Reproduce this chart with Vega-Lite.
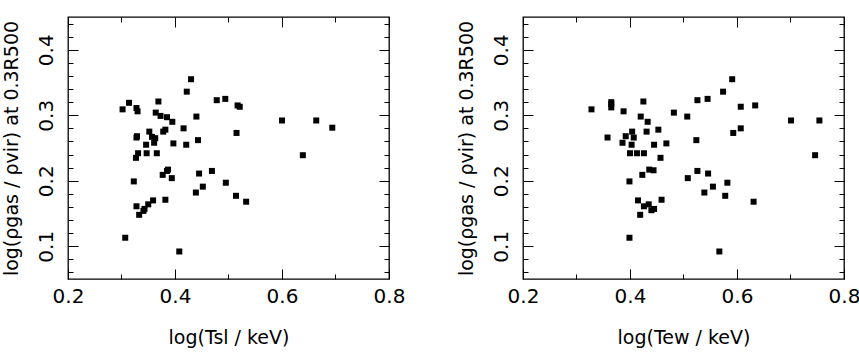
{
  "$schema": "https://vega.github.io/schema/vega-lite/v6.json",
  "padding": {"left": 1, "top": 15, "right": 0, "bottom": 0},
  "spacing": 134,
  "bounds": "flush",
  "datasets": {
    "sl": [
      {"x": 0.302, "y": 0.309}, {"x": 0.314, "y": 0.319}, {"x": 0.328, "y": 0.311}, {"x": 0.330, "y": 0.306},
      {"x": 0.369, "y": 0.321}, {"x": 0.364, "y": 0.304}, {"x": 0.373, "y": 0.299}, {"x": 0.385, "y": 0.297},
      {"x": 0.395, "y": 0.290}, {"x": 0.430, "y": 0.355}, {"x": 0.422, "y": 0.336}, {"x": 0.440, "y": 0.298},
      {"x": 0.478, "y": 0.323}, {"x": 0.494, "y": 0.325}, {"x": 0.517, "y": 0.315}, {"x": 0.521, "y": 0.313},
      {"x": 0.416, "y": 0.280}, {"x": 0.382, "y": 0.278}, {"x": 0.378, "y": 0.275}, {"x": 0.352, "y": 0.275},
      {"x": 0.329, "y": 0.268}, {"x": 0.328, "y": 0.266}, {"x": 0.357, "y": 0.267}, {"x": 0.363, "y": 0.265},
      {"x": 0.361, "y": 0.258}, {"x": 0.346, "y": 0.255}, {"x": 0.397, "y": 0.257}, {"x": 0.421, "y": 0.255},
      {"x": 0.443, "y": 0.262}, {"x": 0.515, "y": 0.273}, {"x": 0.600, "y": 0.292}, {"x": 0.664, "y": 0.292},
      {"x": 0.694, "y": 0.281}, {"x": 0.639, "y": 0.239}, {"x": 0.347, "y": 0.242}, {"x": 0.331, "y": 0.242},
      {"x": 0.366, "y": 0.242}, {"x": 0.327, "y": 0.235}, {"x": 0.323, "y": 0.199}, {"x": 0.387, "y": 0.217},
      {"x": 0.385, "y": 0.215}, {"x": 0.377, "y": 0.209}, {"x": 0.394, "y": 0.204}, {"x": 0.445, "y": 0.211},
      {"x": 0.469, "y": 0.215}, {"x": 0.495, "y": 0.197}, {"x": 0.452, "y": 0.191}, {"x": 0.439, "y": 0.182},
      {"x": 0.514, "y": 0.177}, {"x": 0.533, "y": 0.168}, {"x": 0.382, "y": 0.171}, {"x": 0.359, "y": 0.170},
      {"x": 0.350, "y": 0.164}, {"x": 0.343, "y": 0.157}, {"x": 0.341, "y": 0.154}, {"x": 0.333, "y": 0.148},
      {"x": 0.328, "y": 0.161}, {"x": 0.307, "y": 0.113}, {"x": 0.408, "y": 0.092}
    ],
    "ew": [
      {"x": 0.328, "y": 0.309}, {"x": 0.365, "y": 0.320}, {"x": 0.365, "y": 0.317}, {"x": 0.365, "y": 0.312},
      {"x": 0.388, "y": 0.306}, {"x": 0.425, "y": 0.321}, {"x": 0.420, "y": 0.298}, {"x": 0.433, "y": 0.290},
      {"x": 0.482, "y": 0.304}, {"x": 0.507, "y": 0.298}, {"x": 0.526, "y": 0.323}, {"x": 0.545, "y": 0.325},
      {"x": 0.574, "y": 0.336}, {"x": 0.591, "y": 0.355}, {"x": 0.607, "y": 0.313}, {"x": 0.634, "y": 0.315},
      {"x": 0.701, "y": 0.292}, {"x": 0.754, "y": 0.292}, {"x": 0.746, "y": 0.239}, {"x": 0.593, "y": 0.273},
      {"x": 0.607, "y": 0.280}, {"x": 0.524, "y": 0.262}, {"x": 0.453, "y": 0.278}, {"x": 0.431, "y": 0.275},
      {"x": 0.404, "y": 0.275}, {"x": 0.358, "y": 0.266}, {"x": 0.392, "y": 0.268}, {"x": 0.407, "y": 0.266},
      {"x": 0.386, "y": 0.258}, {"x": 0.403, "y": 0.255}, {"x": 0.445, "y": 0.255}, {"x": 0.468, "y": 0.257},
      {"x": 0.400, "y": 0.242}, {"x": 0.413, "y": 0.242}, {"x": 0.426, "y": 0.242}, {"x": 0.457, "y": 0.235},
      {"x": 0.436, "y": 0.217}, {"x": 0.444, "y": 0.216}, {"x": 0.423, "y": 0.209}, {"x": 0.399, "y": 0.199},
      {"x": 0.508, "y": 0.204}, {"x": 0.526, "y": 0.215}, {"x": 0.546, "y": 0.211}, {"x": 0.555, "y": 0.191},
      {"x": 0.582, "y": 0.197}, {"x": 0.539, "y": 0.182}, {"x": 0.578, "y": 0.177}, {"x": 0.631, "y": 0.168},
      {"x": 0.415, "y": 0.170}, {"x": 0.459, "y": 0.171}, {"x": 0.426, "y": 0.161}, {"x": 0.435, "y": 0.164},
      {"x": 0.445, "y": 0.157}, {"x": 0.440, "y": 0.155}, {"x": 0.419, "y": 0.148}, {"x": 0.399, "y": 0.113},
      {"x": 0.567, "y": 0.092}
    ]
  },
  "hconcat": [
    {
      "width": 321, "height": 262,
      "resolve": {"scale": {"x": "independent", "y": "independent"}},
      "layer": [
        {
          "data": {"name": "sl"},
          "mark": {"type": "square", "size": 36, "color": "black", "opacity": 1},
          "encoding": {
            "x": {"field": "x", "type": "quantitative", "scale": {"domain": [0.2, 0.8], "nice": false, "zero": false},
              "axis": {"orient": "bottom", "values": [0.2, 0.4, 0.6, 0.8], "format": ".1f", "domainOpacity": 0, "ticks": true, "tickColor": "black", "tickSize": 10, "offset": -10, "labelPadding": 7, "title": "log(Tsl / keV)", "titlePadding": 22}},
            "y": {"field": "y", "type": "quantitative", "scale": {"domain": [0.05, 0.45], "nice": false, "zero": false},
              "axis": {"orient": "left", "values": [0.1, 0.2, 0.3, 0.4], "format": ".1f", "domainOpacity": 0, "ticks": true, "tickColor": "black", "tickSize": 10, "offset": -10, "labelAngle": -90, "labelAlign": "center", "labelBaseline": "bottom", "labelPadding": 12, "title": "log(ρgas / ρvir) at 0.3R500", "titlePadding": 15}}
          }
        },
        {
          "data": {"name": "sl"},
          "mark": {"type": "square", "opacity": 0},
          "encoding": {
            "x": {"field": "x", "type": "quantitative", "scale": {"domain": [0.2, 0.8], "nice": false, "zero": false},
              "axis": {"orient": "bottom", "values": [0.3, 0.5, 0.7], "labels": false, "title": null, "domainOpacity": 0, "ticks": true, "tickColor": "black", "tickSize": 5, "offset": -5}},
            "y": {"field": "y", "type": "quantitative", "scale": {"domain": [0.05, 0.45], "nice": false, "zero": false},
              "axis": {"orient": "left", "values": [0.06, 0.08, 0.12, 0.14, 0.16, 0.18, 0.22, 0.24, 0.26, 0.28, 0.32, 0.34, 0.36, 0.38, 0.42, 0.44], "labels": false, "title": null, "domainOpacity": 0, "ticks": true, "tickColor": "black", "tickSize": 5, "offset": -5}}
          }
        },
        {
          "data": {"name": "sl"},
          "mark": {"type": "square", "opacity": 0},
          "encoding": {
            "x": {"field": "x", "type": "quantitative", "scale": {"domain": [0.2, 0.8], "nice": false, "zero": false},
              "axis": {"orient": "top", "values": [0.2, 0.4, 0.6, 0.8], "labels": false, "title": null, "domainOpacity": 0, "ticks": true, "tickColor": "black", "tickSize": 10, "offset": -10}},
            "y": {"field": "y", "type": "quantitative", "scale": {"domain": [0.05, 0.45], "nice": false, "zero": false},
              "axis": {"orient": "right", "values": [0.1, 0.2, 0.3, 0.4], "labels": false, "title": null, "domainOpacity": 0, "ticks": true, "tickColor": "black", "tickSize": 10, "offset": -10}}
          }
        },
        {
          "data": {"name": "sl"},
          "mark": {"type": "square", "opacity": 0},
          "encoding": {
            "x": {"field": "x", "type": "quantitative", "scale": {"domain": [0.2, 0.8], "nice": false, "zero": false},
              "axis": {"orient": "top", "values": [0.3, 0.5, 0.7], "labels": false, "title": null, "domainOpacity": 0, "ticks": true, "tickColor": "black", "tickSize": 5, "offset": -5}},
            "y": {"field": "y", "type": "quantitative", "scale": {"domain": [0.05, 0.45], "nice": false, "zero": false},
              "axis": {"orient": "right", "values": [0.06, 0.08, 0.12, 0.14, 0.16, 0.18, 0.22, 0.24, 0.26, 0.28, 0.32, 0.34, 0.36, 0.38, 0.42, 0.44], "labels": false, "title": null, "domainOpacity": 0, "ticks": true, "tickColor": "black", "tickSize": 5, "offset": -5}}
          }
        }
      ]
    },
    {
      "width": 321, "height": 262,
      "resolve": {"scale": {"x": "independent", "y": "independent"}},
      "layer": [
        {
          "data": {"name": "ew"},
          "mark": {"type": "square", "size": 36, "color": "black", "opacity": 1},
          "encoding": {
            "x": {"field": "x", "type": "quantitative", "scale": {"domain": [0.2, 0.8], "nice": false, "zero": false},
              "axis": {"orient": "bottom", "values": [0.2, 0.4, 0.6, 0.8], "format": ".1f", "domainOpacity": 0, "ticks": true, "tickColor": "black", "tickSize": 10, "offset": -10, "labelPadding": 7, "title": "log(Tew / keV)", "titlePadding": 22}},
            "y": {"field": "y", "type": "quantitative", "scale": {"domain": [0.05, 0.45], "nice": false, "zero": false},
              "axis": {"orient": "left", "values": [0.1, 0.2, 0.3, 0.4], "format": ".1f", "domainOpacity": 0, "ticks": true, "tickColor": "black", "tickSize": 10, "offset": -10, "labelAngle": -90, "labelAlign": "center", "labelBaseline": "bottom", "labelPadding": 12, "title": "log(ρgas / ρvir) at 0.3R500", "titlePadding": 15}}
          }
        },
        {
          "data": {"name": "ew"},
          "mark": {"type": "square", "opacity": 0},
          "encoding": {
            "x": {"field": "x", "type": "quantitative", "scale": {"domain": [0.2, 0.8], "nice": false, "zero": false},
              "axis": {"orient": "bottom", "values": [0.3, 0.5, 0.7], "labels": false, "title": null, "domainOpacity": 0, "ticks": true, "tickColor": "black", "tickSize": 5, "offset": -5}},
            "y": {"field": "y", "type": "quantitative", "scale": {"domain": [0.05, 0.45], "nice": false, "zero": false},
              "axis": {"orient": "left", "values": [0.06, 0.08, 0.12, 0.14, 0.16, 0.18, 0.22, 0.24, 0.26, 0.28, 0.32, 0.34, 0.36, 0.38, 0.42, 0.44], "labels": false, "title": null, "domainOpacity": 0, "ticks": true, "tickColor": "black", "tickSize": 5, "offset": -5}}
          }
        },
        {
          "data": {"name": "ew"},
          "mark": {"type": "square", "opacity": 0},
          "encoding": {
            "x": {"field": "x", "type": "quantitative", "scale": {"domain": [0.2, 0.8], "nice": false, "zero": false},
              "axis": {"orient": "top", "values": [0.2, 0.4, 0.6, 0.8], "labels": false, "title": null, "domainOpacity": 0, "ticks": true, "tickColor": "black", "tickSize": 10, "offset": -10}},
            "y": {"field": "y", "type": "quantitative", "scale": {"domain": [0.05, 0.45], "nice": false, "zero": false},
              "axis": {"orient": "right", "values": [0.1, 0.2, 0.3, 0.4], "labels": false, "title": null, "domainOpacity": 0, "ticks": true, "tickColor": "black", "tickSize": 10, "offset": -10}}
          }
        },
        {
          "data": {"name": "ew"},
          "mark": {"type": "square", "opacity": 0},
          "encoding": {
            "x": {"field": "x", "type": "quantitative", "scale": {"domain": [0.2, 0.8], "nice": false, "zero": false},
              "axis": {"orient": "top", "values": [0.3, 0.5, 0.7], "labels": false, "title": null, "domainOpacity": 0, "ticks": true, "tickColor": "black", "tickSize": 5, "offset": -5}},
            "y": {"field": "y", "type": "quantitative", "scale": {"domain": [0.05, 0.45], "nice": false, "zero": false},
              "axis": {"orient": "right", "values": [0.06, 0.08, 0.12, 0.14, 0.16, 0.18, 0.22, 0.24, 0.26, 0.28, 0.32, 0.34, 0.36, 0.38, 0.42, 0.44], "labels": false, "title": null, "domainOpacity": 0, "ticks": true, "tickColor": "black", "tickSize": 5, "offset": -5}}
          }
        }
      ]
    }
  ],
  "config": {
    "view": {"stroke": "black", "strokeWidth": 1.3},
    "axis": {
      "grid": false, "labelOverlap": false, "labelFlush": false,
      "labelFont": "DejaVu Sans", "titleFont": "DejaVu Sans",
      "labelFontSize": 20, "titleFontSize": 19, "titleFontWeight": "normal",
      "labelColor": "black", "titleColor": "black"
    }
  }
}
